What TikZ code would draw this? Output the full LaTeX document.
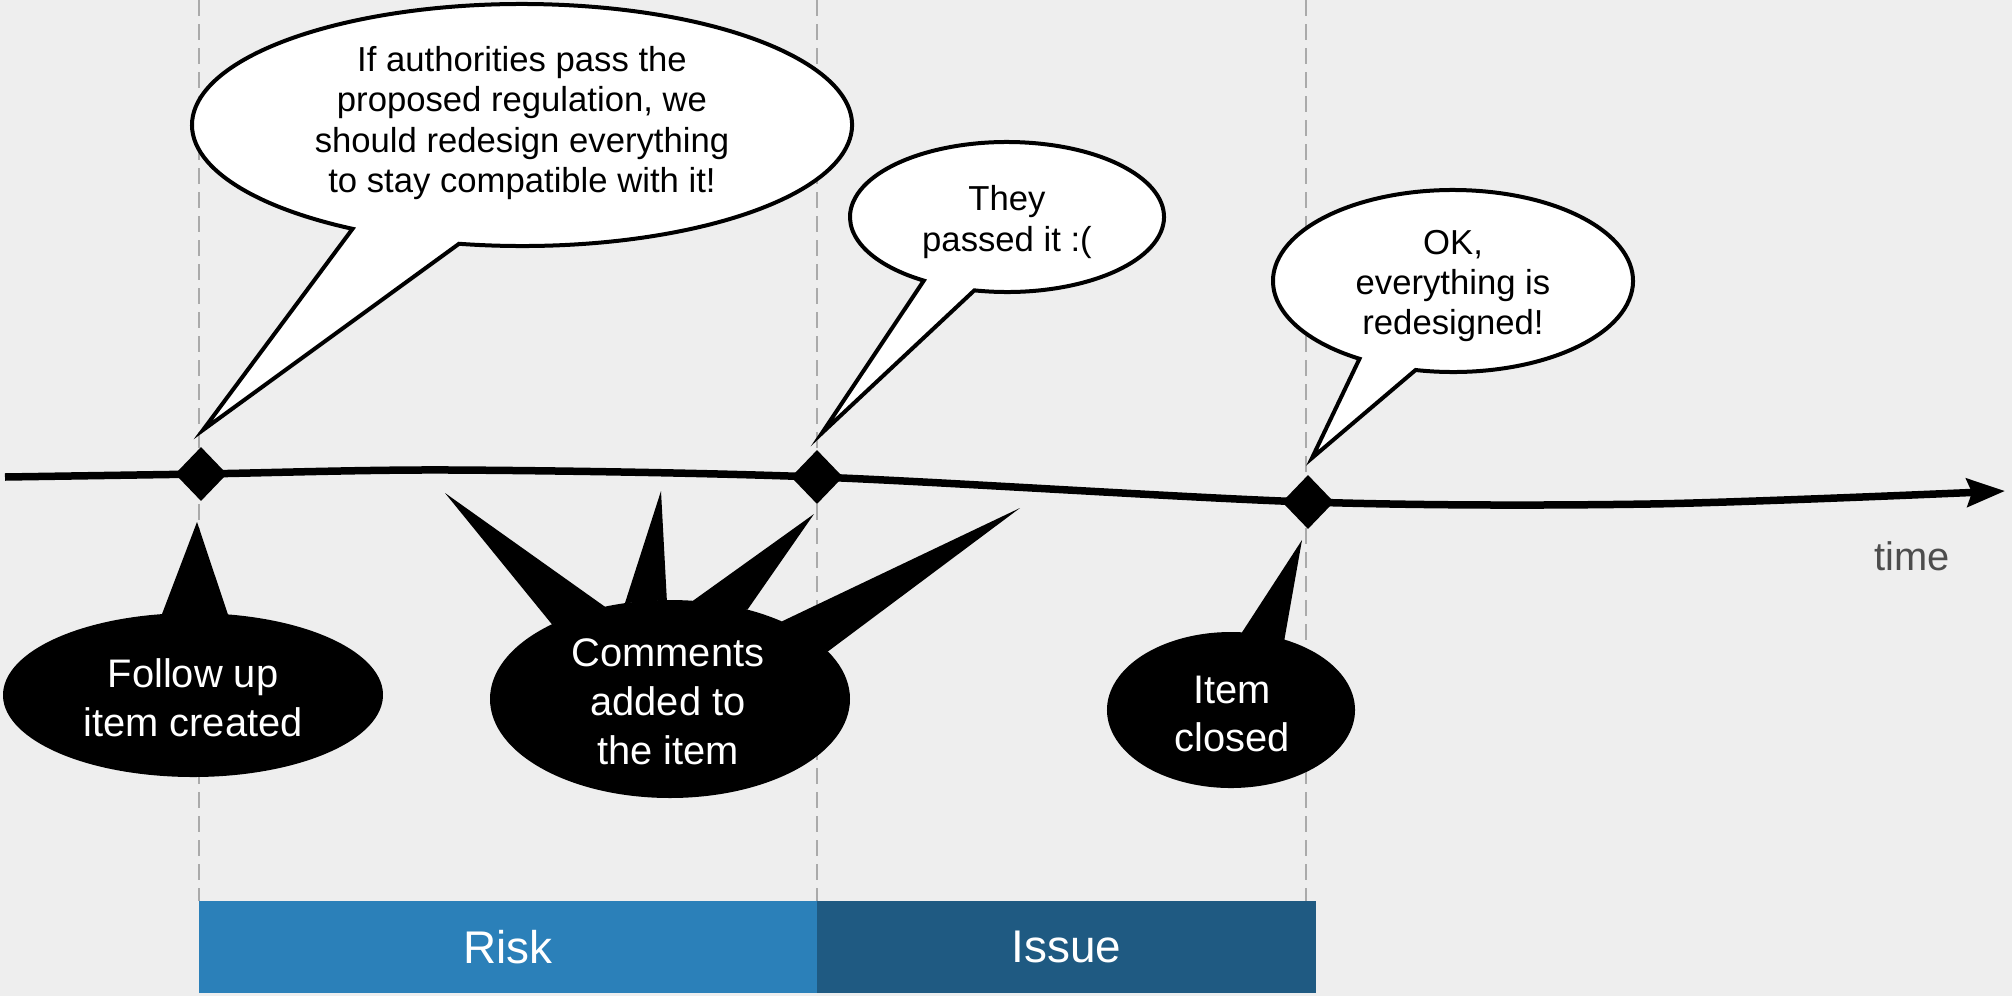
\documentclass[tikz,border=0pt]{standalone}
\usepackage{fontspec}
\setmainfont{Liberation Sans}
\usetikzlibrary{shapes.geometric,arrows.meta,calc}
\definecolor{bg}{HTML}{EEEEEE}
\definecolor{dashgray}{HTML}{AAAAAA}
\definecolor{riskblue}{HTML}{2B80B9}
\definecolor{issueblue}{HTML}{1F5A82}
\definecolor{timegray}{HTML}{4D4D4D}
\begin{document}
\begin{tikzpicture}[x=1bp,y=-1bp,
  wbubble/.style={fill=white,draw=black,line width=4bp,line join=miter},
  bshape/.style={fill=black},
  wtext/.style={align=center,font=\fontsize{34.8}{40.5}\selectfont,text=black,inner sep=0pt},
  btext/.style={align=center,font=\fontsize{40}{49}\selectfont,text=white,inner sep=0pt},
  vguide/.style={draw=dashgray,line width=2.5bp,dash pattern=on 16bp off 8bp},
  event/.style={diamond,fill=black,minimum width=52bp,minimum height=54bp,inner sep=0pt},
  phase/.style={text=white,font=\fontsize{46}{55}\selectfont,inner sep=0pt,minimum height=92bp},
  timeline/.style={line width=7.5bp,-{Stealth[length=38bp,width=28bp,inset=5bp]}},
]
\useasboundingbox (0,0) rectangle (2012,996);
\fill[bg] (0,0) rectangle (2012,996);

% guides
\coordinate (g1t) at (199,0);  \coordinate (g1b) at (199,901);
\coordinate (g2t) at (817,0);  \coordinate (g2b) at (817,901);
\coordinate (g3t) at (1306,0); \coordinate (g3b) at (1306,901);
\draw[vguide] (g1t) -- (g1b);
\draw[vguide] (g2t) -- (g2b);
\draw[vguide] (g3t) -- (g3b);

% phases
\node[phase,fill=riskblue,minimum width=618bp] (risk) at (508,947) {Risk};
\node[phase,fill=issueblue,minimum width=499bp] (issue) at (1066.5,947) {Issue};

% timeline
\coordinate (tstart) at (5,477);
\coordinate (e1) at (201,474);
\coordinate (tm1) at (450,470);
\coordinate (e2) at (817,477);
\coordinate (e3) at (1308,502);
\coordinate (tm2) at (1650,504);
\coordinate (tend) at (2005,491);
\draw[timeline] plot[smooth,tension=0.5] coordinates {(tstart) (e1) (tm1) (e2) (e3) (tm2) (tend)};
\node[event] (d1) at (e1) {};
\node[event] (d2) at (e2) {};
\node[event] (d3) at (e3) {};
\node[text=timegray,font=\fontsize{40}{48}\selectfont,anchor=base,inner sep=0pt] (timelbl) at (1912,570) {time};

% black callout 1
\coordinate (c1) at (193,695);
\fill[bshape] ($(c1)+(-79.4:190 and 82)$) arc[start angle=-79.4, end angle=260.6, x radius=190, y radius=82] -- (197,522) -- cycle;
\node[btext] (t1) at (193,698) {Follow up\\item created};

% black callout 2 (spiky)
\coordinate (c2) at (670,699);
\fill[bshape] (c2) ellipse [x radius=180, y radius=99];
\fill[bshape] (445,493) -- ($(c2)+(-131:180 and 99)$) -- ($(c2)+(-111.2:180 and 99)$) -- cycle;
\fill[bshape] (661,491) -- ($(c2)+(-104.5:180 and 99)$) -- ($(c2)+(-91:180 and 99)$) -- cycle;
\fill[bshape] (814,514) -- ($(c2)+(-82.7:180 and 99)$) -- ($(c2)+(-64.5:180 and 99)$) -- cycle;
\fill[bshape] (1020,508) -- ($(c2)+(-51.6:180 and 99)$) -- ($(c2)+(-28.7:180 and 99)$) -- cycle;
\node[btext] (t2) at (668,702) {Comments\\added to\\the item};

% black callout 3
\coordinate (c3) at (1231,710);
\fill[bshape] ($(c3)+(-64.5:124 and 78)$) arc[start angle=-64.5, end angle=275.1, x radius=124, y radius=78] -- (1302,540) -- cycle;
\node[btext] (t3) at (1232,714) {Item\\closed};

% white bubble 1
\coordinate (b1) at (522,125);
\draw[wbubble] ($(b1)+(101:330 and 121)$) arc[start angle=101, end angle=-239.1, x radius=330, y radius=121] -- (203,430) -- cycle;
\node[wtext] (s1) at (522,123) {If authorities pass the\\proposed regulation, we\\should redesign everything\\to stay compatible with it!};

% white bubble 2
\coordinate (b2) at (1007,217);
\draw[wbubble] ($(b2)+(102:157 and 75)$) arc[start angle=102, end angle=-238, x radius=157, y radius=75] -- (822,433) -- cycle;
\node[wtext] (s2) at (1007,222) {They\\passed it :(};

% white bubble 3
\coordinate (b3) at (1453,281);
\draw[wbubble] ($(b3)+(102:180 and 91)$) arc[start angle=102, end angle=-238.7, x radius=180, y radius=91] -- (1312,458) -- cycle;
\node[wtext] (s3) at (1453,286) {OK,\\everything is\\redesigned!};
\end{tikzpicture}
\end{document}
